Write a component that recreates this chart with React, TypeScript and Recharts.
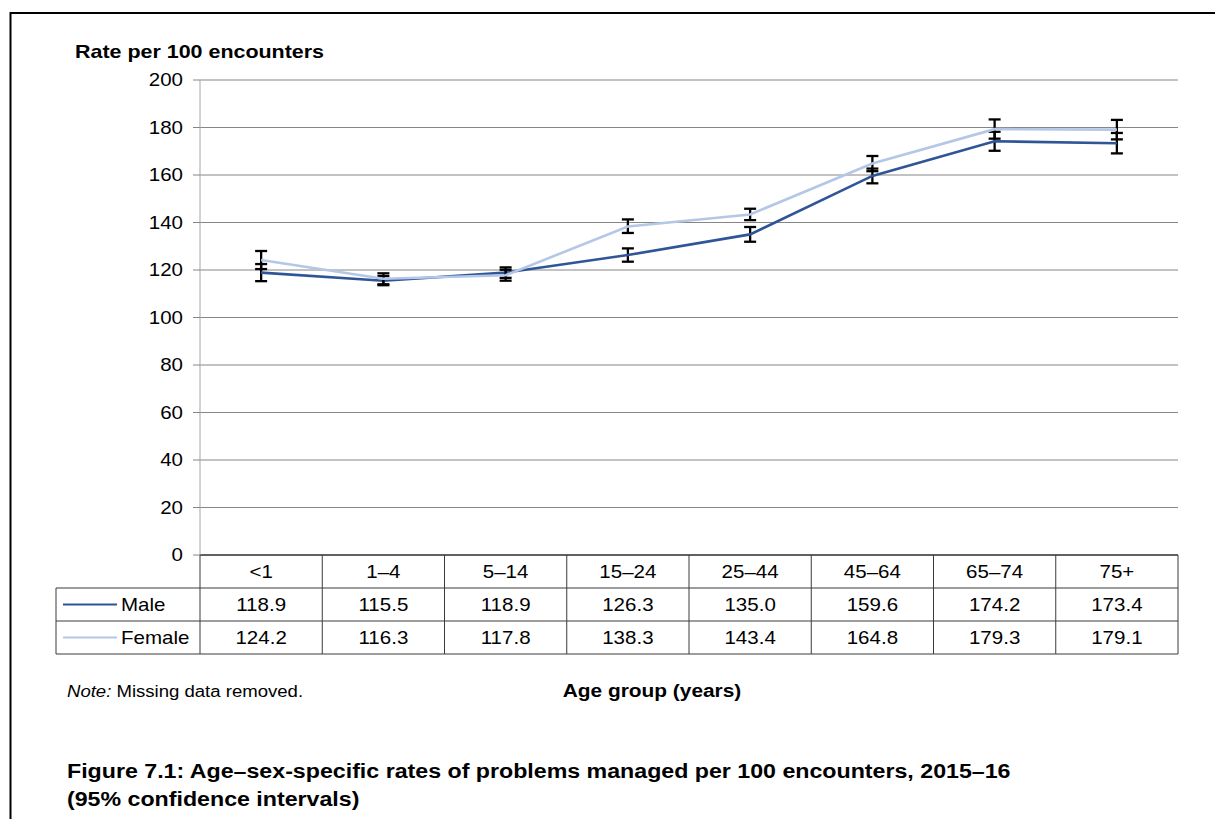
import React from 'react';
import { LineChart, Line, XAxis, YAxis, CartesianGrid, ErrorBar } from 'recharts';

const categories = ['<1', '1–4', '5–14', '15–24', '25–44', '45–64', '65–74', '75+'];
const maleRates = [118.9, 115.5, 118.9, 126.3, 135.0, 159.6, 174.2, 173.4];
const femaleRates = [124.2, 116.3, 117.8, 138.3, 143.4, 164.8, 179.3, 179.1];
const maleLower = [115.3, 113.6, 116.7, 123.5, 131.9, 156.5, 170.2, 169.1];
const maleUpper = [122.5, 117.4, 121.1, 129.1, 138.1, 162.7, 178.2, 177.7];
const femaleLower = [120.4, 114.0, 115.5, 135.6, 141.0, 161.6, 175.3, 175.0];
const femaleUpper = [128.0, 118.6, 120.1, 141.3, 145.8, 168.0, 183.4, 183.2];
const yTicks = [0, 20, 40, 60, 80, 100, 120, 140, 160, 180, 200];
const seriesNames = ['Male', 'Female'];

const data = categories.map((c, i) => ({
  category: c,
  male: maleRates[i],
  female: femaleRates[i],
  maleErr: [maleRates[i] - maleLower[i], maleUpper[i] - maleRates[i]],
  femaleErr: [femaleRates[i] - femaleLower[i], femaleUpper[i] - femaleRates[i]],
}));

const W = 1215;
const H = 819;
const PLOT_LEFT = 200;
const PLOT_RIGHT = 1178;
const PLOT_TOP = 80;
const AXIS_Y = 555;
const ROW_H = 33;
const BAND = (PLOT_RIGHT - PLOT_LEFT) / categories.length;
const LEGEND_LEFT = 56;
const FONT = '"Liberation Sans", Arial, Helvetica, sans-serif';
const MALE_COLOR = '#2F5597';
const FEMALE_COLOR = '#B4C7E7';
const TABLE_LINE = '#3a3a3a';
const SX = 1.16;
const BODY = 17.7;

const ST = ({ x, y, anchor = 'start', size = BODY, bold = false, children }: any) => (
  <text
    transform={`translate(${x} ${y}) scale(${SX} 1)`}
    textAnchor={anchor}
    fontSize={size}
    fontWeight={bold ? 'bold' : 'normal'}
    fontFamily={FONT}
    fill="#000"
  >
    {children}
  </text>
);

const YTick = (props: any) => {
  const { x, y, payload } = props;
  return <ST x={x} y={y + 6.3} anchor="end">{payload.value}</ST>;
};

const TableTick = (props: any) => {
  const { x, payload } = props;
  const i: number = payload.index;
  const left = x - BAND / 2;
  const right = x + BAND / 2;
  const r1 = AXIS_Y;
  const r2 = AXIS_Y + ROW_H;
  const r3 = AXIS_Y + 2 * ROW_H;
  const r4 = AXIS_Y + 3 * ROW_H;
  return (
    <g>
      <line x1={right} y1={r1} x2={right} y2={r4} stroke={TABLE_LINE} strokeWidth={1} />
      {i === 0 && (
        <g>
          <line x1={left} y1={r1} x2={left} y2={r4} stroke={TABLE_LINE} strokeWidth={1} />
          <line x1={LEGEND_LEFT} y1={r2} x2={LEGEND_LEFT} y2={r4} stroke={TABLE_LINE} strokeWidth={1} />
          <line x1={LEGEND_LEFT} y1={r2} x2={left} y2={r2} stroke={TABLE_LINE} strokeWidth={1} />
          <line x1={LEGEND_LEFT} y1={r3} x2={left} y2={r3} stroke={TABLE_LINE} strokeWidth={1} />
          <line x1={LEGEND_LEFT} y1={r4} x2={left} y2={r4} stroke={TABLE_LINE} strokeWidth={1} />
          <line x1={63} y1={r2 + ROW_H / 2} x2={117} y2={r2 + ROW_H / 2} stroke={MALE_COLOR} strokeWidth={2} />
          <ST x={121} y={r2 + 23}>{seriesNames[0]}</ST>
          <line x1={63} y1={r3 + ROW_H / 2} x2={117} y2={r3 + ROW_H / 2} stroke={FEMALE_COLOR} strokeWidth={2} />
          <ST x={121} y={r3 + 23}>{seriesNames[1]}</ST>
        </g>
      )}
      <line x1={left} y1={r2} x2={right} y2={r2} stroke={TABLE_LINE} strokeWidth={1} />
      <line x1={left} y1={r3} x2={right} y2={r3} stroke={TABLE_LINE} strokeWidth={1} />
      <line x1={left} y1={r4} x2={right} y2={r4} stroke={TABLE_LINE} strokeWidth={1} />
      <ST x={x} y={r1 + 23} anchor="middle">{payload.value}</ST>
      <ST x={x} y={r2 + 23} anchor="middle">{maleRates[i].toFixed(1)}</ST>
      <ST x={x} y={r3 + 23} anchor="middle">{femaleRates[i].toFixed(1)}</ST>
    </g>
  );
};

export default function App() {
  const yAxisWidth = 60;
  const xAxisHeight = 3 * ROW_H + 2;
  return (
    <div style={{ position: 'absolute', left: 0, top: 0, width: W, height: H, background: '#fff', overflow: 'hidden' }}>
      <LineChart
        width={W}
        height={H}
        data={data}
        margin={{ top: PLOT_TOP, right: W - PLOT_RIGHT, left: PLOT_LEFT - yAxisWidth, bottom: H - AXIS_Y - xAxisHeight }}
      >
        <CartesianGrid vertical={false} stroke="#868686" strokeWidth={1} />
        <XAxis
          dataKey="category"
          scale="band"
          interval={0}
          height={xAxisHeight}
          axisLine={{ stroke: '#404040', strokeWidth: 1.5 }}
          tickLine={false}
          tick={<TableTick />}
        />
        <YAxis
          domain={[0, 200]}
          ticks={yTicks}
          width={yAxisWidth}
          interval={0}
          axisLine={{ stroke: '#a6a6a6' }}
          tickLine={{ stroke: '#868686' }}
          tickSize={7}
          tickMargin={10}
          tick={<YTick />}
        />
        <Line dataKey="male" name="Male" stroke={MALE_COLOR} strokeWidth={2.6} dot={false} isAnimationActive={false}>
          <ErrorBar dataKey="maleErr" direction="y" width={6} stroke="#000" strokeWidth={2.3} />
        </Line>
        <Line dataKey="female" name="Female" stroke={FEMALE_COLOR} strokeWidth={2.6} dot={false} isAnimationActive={false}>
          <ErrorBar dataKey="femaleErr" direction="y" width={6} stroke="#000" strokeWidth={2.3} />
        </Line>
      </LineChart>
      <svg width={W} height={H} style={{ position: 'absolute', left: 0, top: 0, pointerEvents: 'none' }}>
        <line x1={10.5} y1={13} x2={W} y2={13} stroke="#000" strokeWidth={2} />
        <line x1={10.5} y1={12} x2={10.5} y2={H} stroke="#000" strokeWidth={2} />
        <ST x={75} y={58} size={18.5} bold>Rate per 100 encounters</ST>
        <text
          transform={`translate(67 697) scale(${SX} 1)`}
          fontSize={16}
          fontFamily={FONT}
          fill="#000"
        >
          <tspan fontStyle="italic">Note:</tspan> Missing data removed.
        </text>
        <ST x={652} y={697} anchor="middle" size={18} bold>Age group (years)</ST>
        <ST x={67} y={778} size={20} bold>Figure 7.1: Age–sex-specific rates of problems managed per 100 encounters, 2015–16</ST>
        <ST x={67} y={806} size={20} bold>(95% confidence intervals)</ST>
      </svg>
    </div>
  );
}
